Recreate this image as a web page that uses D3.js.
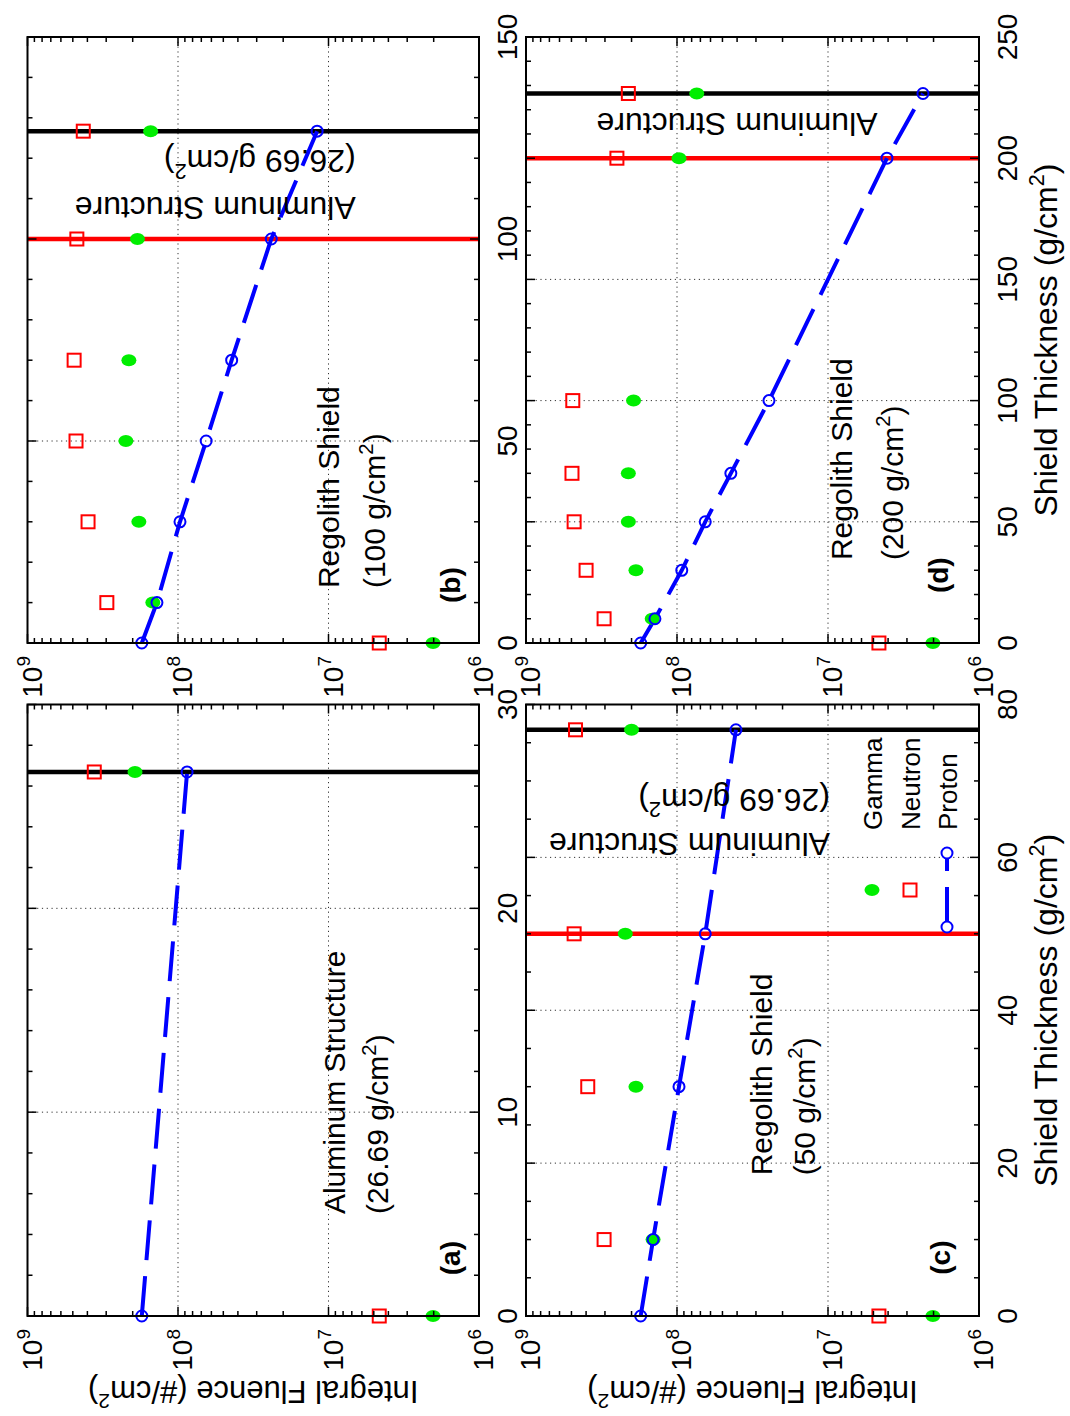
<!DOCTYPE html>
<html><head><meta charset="utf-8">
<script src="https://cdn.jsdelivr.net/npm/d3@7"></script>
<style>
html,body{margin:0;padding:0;background:#fff;}
svg{display:block;}
text{font-family:"Liberation Sans", Arial, Helvetica, sans-serif;fill:#000;}
</style></head><body>
<svg id="chart" width="1070" height="1416"></svg>
<script>
// ---------------- data ----------------
const seriesNames = ["Gamma", "Neutron", "Proton"];
const yTickValues = [1e6, 1e7, 1e8, 1e9];
const yTickExponents = ["6", "7", "8", "9"];

// (a) Aluminum structure only
const thicknessA = [0, 26.69];
const protonA  = [1.74e8, 8.7e7];
const neutronA = [4.6e6, 3.6e8];
const gammaA   = [2.02e6, 1.93e8];
const xTicksA  = [0, 10, 20, 30];

// (b) Regolith 100 g/cm2 + aluminum
const thicknessB = [0, 10, 30, 50, 70, 100, 126.69];
const protonB  = [1.74e8, 1.38e8, 9.7e7, 6.5e7, 4.4e7, 2.4e7, 1.19e7];
const neutronB = [4.6e6, 2.97e8, 3.96e8, 4.76e8, 4.9e8, 4.7e8, 4.26e8];
const gammaB   = [2.02e6, 1.47e8, 1.82e8, 2.22e8, 2.12e8, 1.86e8, 1.52e8];
const xTicksB  = [0, 50, 100, 150];

// (c) Regolith 50 g/cm2 + aluminum
const thicknessC = [0, 10, 30, 50, 76.69];
const protonC  = [1.74e8, 1.44e8, 9.7e7, 6.5e7, 4.07e7];
const neutronC = [4.6e6, 3.04e8, 3.9e8, 4.8e8, 4.7e8];
const gammaC   = [2.02e6, 1.44e8, 1.87e8, 2.2e8, 2.0e8];
const xTicksC  = [0, 20, 40, 60, 80];

// (d) Regolith 200 g/cm2 + aluminum
const thicknessD = [0, 10, 30, 50, 70, 100, 200, 226.69];
const protonD  = [1.74e8, 1.4e8, 9.3e7, 6.5e7, 4.4e7, 2.46e7, 4.07e6, 2.35e6];
const neutronD = [4.6e6, 3.04e8, 4.0e8, 4.8e8, 4.96e8, 4.9e8, 2.5e8, 2.1e8];
const gammaD   = [2.02e6, 1.46e8, 1.87e8, 2.1e8, 2.1e8, 1.94e8, 9.7e7, 7.4e7];
const xTicksD  = [0, 50, 100, 150, 200, 250];

// boundary lines: regolith thickness (red) and regolith + aluminum (black)
const regolithLines = {a: null, b: 100, c: 50, d: 200};
const aluminumLines = {a: 26.69, b: 126.69, c: 76.69, d: 226.69};

// ---------------- layout (original landscape frame, rotated onto page) ----------------
const svg = d3.select("#chart");
const root = svg.append("g").attr("transform", "translate(0,1416) rotate(-90)");

const panels = [
  {key: "a", xs: thicknessA, p: protonA, n: neutronA, g: gammaA, xt: xTicksA, minor: 2,
   L: 100, R: 711.5, T: 27.5, B: 479, ylab: true, xlab: false},
  {key: "b", xs: thicknessB, p: protonB, n: neutronB, g: gammaB, xt: xTicksB, minor: 10,
   L: 773, R: 1379, T: 27.5, B: 479, ylab: false, xlab: false},
  {key: "c", xs: thicknessC, p: protonC, n: neutronC, g: gammaC, xt: xTicksC, minor: 5,
   L: 100, R: 711.5, T: 526, B: 979, ylab: true, xlab: true},
  {key: "d", xs: thicknessD, p: protonD, n: neutronD, g: gammaD, xt: xTicksD, minor: 10,
   L: 773, R: 1379, T: 526, B: 979, ylab: false, xlab: true}
];

function rich(t, segs, size) {
  t.attr("font-size", size);
  let prevSup = false;
  for (const s of segs) {
    const isSup = s.startsWith("^");
    const ts = t.append("tspan").text(isSup ? s.slice(1) : s);
    if (isSup) ts.attr("font-size", size * 0.68).attr("dy", -size * 0.42);
    else if (prevSup) ts.attr("dy", size * 0.42);
    prevSup = isSup;
  }
  return t;
}

panels.forEach(P => {
  const g = root.append("g");
  const x = d3.scaleLinear().domain([P.xt[0], P.xt[P.xt.length - 1]]).range([P.L, P.R]);
  const y = d3.scaleLog().domain([1e6, 1e9]).range([P.B, P.T]);

  // grid
  const grid = g.append("g").attr("stroke", "#333").attr("stroke-width", 1).attr("stroke-dasharray", "1.2,3.6");
  P.xt.slice(1, -1).forEach(v => grid.append("line").attr("x1", x(v)).attr("x2", x(v)).attr("y1", P.T).attr("y2", P.B));
  yTickValues.slice(1, -1).forEach(v => grid.append("line").attr("y1", y(v)).attr("y2", y(v)).attr("x1", P.L).attr("x2", P.R));

  // boundary lines
  if (regolithLines[P.key] != null)
    g.append("line").attr("x1", x(regolithLines[P.key])).attr("x2", x(regolithLines[P.key]))
      .attr("y1", P.T).attr("y2", P.B).attr("stroke", "#ff0000").attr("stroke-width", 4.5);
  g.append("line").attr("x1", x(aluminumLines[P.key])).attr("x2", x(aluminumLines[P.key]))
    .attr("y1", P.T).attr("y2", P.B).attr("stroke", "#000").attr("stroke-width", 4.5);

  // proton dashed line
  const line = d3.line().x((d, i) => x(P.xs[i])).y(d => y(d));
  g.append("path").datum(P.p).attr("d", line).attr("fill", "none").attr("stroke", "#0000ff")
    .attr("stroke-width", 4).attr("stroke-dasharray", "40,16");

  // gamma markers
  g.selectAll(".gm").data(P.g).enter().append("ellipse")
    .attr("cx", (d, i) => x(P.xs[i])).attr("cy", d => y(d)).attr("rx", 6).attr("ry", 7.5)
    .attr("fill", "#00ee00");
  // neutron markers
  g.selectAll(".nm").data(P.n).enter().append("rect")
    .attr("x", (d, i) => x(P.xs[i]) - 6.5).attr("y", d => y(d) - 6.5).attr("width", 13).attr("height", 13)
    .attr("fill", "none").attr("stroke", "#ff0000").attr("stroke-width", 2);
  // proton markers
  g.selectAll(".pm").data(P.p).enter().append("circle")
    .attr("cx", (d, i) => x(P.xs[i])).attr("cy", d => y(d)).attr("r", 5.5)
    .attr("fill", "none").attr("stroke", "#0000ff").attr("stroke-width", 2);

  // box
  g.append("rect").attr("x", P.L).attr("y", P.T).attr("width", P.R - P.L).attr("height", P.B - P.T)
    .attr("fill", "none").attr("stroke", "#000").attr("stroke-width", 2);

  // ticks
  const tk = g.append("g").attr("stroke", "#000").attr("stroke-width", 1.5);
  const xmax = P.xt[P.xt.length - 1];
  for (let v = 0; v <= xmax + 1e-9; v += P.minor) {
    const major = P.xt.includes(v);
    const len = major ? 9 : 5;
    tk.append("line").attr("x1", x(v)).attr("x2", x(v)).attr("y1", P.B).attr("y2", P.B - len);
    tk.append("line").attr("x1", x(v)).attr("x2", x(v)).attr("y1", P.T).attr("y2", P.T + len);
  }
  for (let e = 6; e <= 9; e++) {
    for (let k = 1; k <= 9; k++) {
      const v = k * Math.pow(10, e);
      if (v > 1e9 * 1.0001) break;
      const len = k === 1 ? 9 : 5;
      tk.append("line").attr("y1", y(v)).attr("y2", y(v)).attr("x1", P.L).attr("x2", P.L + len);
      tk.append("line").attr("y1", y(v)).attr("y2", y(v)).attr("x1", P.R).attr("x2", P.R - len);
    }
  }

  // tick labels
  P.xt.forEach(v => g.append("text").attr("x", x(v)).attr("y", P.B + 38)
    .attr("text-anchor", "middle").attr("font-size", 28).text(v));
  yTickValues.forEach((v, i) => {
    const t = g.append("text").attr("x", P.L - 13).attr("y", y(v) + 14).attr("text-anchor", "end");
    rich(t, ["10", "^" + yTickExponents[i]], 28);
  });

  // axis labels
  if (P.ylab) {
    const t = g.append("text").attr("text-anchor", "middle")
      .attr("transform", `translate(${P.L - 65},${(P.T + P.B) / 2}) rotate(-90)`);
    rich(t, ["Integral Fluence (#/cm", "^2", ")"], 31);
  }
  if (P.xlab) {
    const t = g.append("text").attr("text-anchor", "middle")
      .attr("x", (P.L + P.R) / 2).attr("y", P.B + 78);
    rich(t, ["Shield Thickness (g/cm", "^2", ")"], 32);
  }
  P.x = x; P.y = y; P.g_ = g;
});

// ---------------- annotations ----------------
function hText(P, xv, yv, segs, size, bold) {
  const t = P.g_.append("text").attr("x", P.x(xv)).attr("y", P.y(yv));
  if (bold) t.attr("font-weight", "bold");
  return rich(t, segs, size);
}
function vText(P, xv, yv, segs, size) {
  const t = P.g_.append("text")
    .attr("transform", `translate(${P.x(xv)},${P.y(yv)}) rotate(-90)`);
  return rich(t, segs, size);
}
const [pa, pb, pc, pd] = panels;

hText(pa, 5, 7.76e6, ["Aluminum Structure"], 30);
hText(pa, 5, 4.0e6, ["(26.69 g/cm", "^2", ")"], 30);
hText(pa, 2, 1.34e6, ["(a)"], 28, true);

hText(pb, 13.6, 8.5e6, ["Regolith Shield"], 30);
hText(pb, 13.6, 4.2e6, ["(100 g/cm", "^2", ")"], 30);
hText(pb, 9.9, 1.34e6, ["(b)"], 28, true);
vText(pb, 110.4, 6.6e6, ["Aluminum Structure"], 32);
vText(pb, 122, 6.6e6, ["(26.69 g/cm", "^2", ")"], 32);

hText(pc, 18.4, 2.35e7, ["Regolith Shield"], 30);
hText(pc, 18.4, 1.22e7, ["(50 g/cm", "^2", ")"], 30);
hText(pc, 5.4, 1.55e6, ["(c)"], 28, true);
vText(pc, 63.2, 9.7e6, ["Aluminum Structure"], 32);
vText(pc, 69, 9.7e6, ["(26.69 g/cm", "^2", ")"], 32);

hText(pd, 34.2, 6.9e6, ["Regolith Shield"], 30);
hText(pd, 34.2, 3.2e6, ["(200 g/cm", "^2", ")"], 30);
hText(pd, 20.6, 1.6e6, ["(d)"], 28, true);
vText(pd, 218.6, 4.7e6, ["Aluminum Structure"], 32);

// ---------------- legend (inside panel c) ----------------
const lg = pc.g_.append("g");
const lx0 = 489, lx1 = 563, lxm = (lx0 + lx1) / 2, ltx = 586;
const rows = [872, 910, 947];
lg.append("ellipse").attr("cx", lxm).attr("cy", rows[0]).attr("rx", 6).attr("ry", 7.5).attr("fill", "#00ee00");
lg.append("rect").attr("x", lxm - 6.5).attr("y", rows[1] - 6.5).attr("width", 13).attr("height", 13)
  .attr("fill", "none").attr("stroke", "#ff0000").attr("stroke-width", 2);
lg.append("line").attr("x1", lx0).attr("x2", lx1).attr("y1", rows[2]).attr("y2", rows[2])
  .attr("stroke", "#0000ff").attr("stroke-width", 4).attr("stroke-dasharray", "40,16");
[lx0, lx1].forEach(cx => lg.append("circle").attr("cx", cx).attr("cy", rows[2]).attr("r", 5.5)
  .attr("fill", "#fff").attr("stroke", "#0000ff").attr("stroke-width", 2));
seriesNames.forEach((s, i) => lg.append("text").attr("x", ltx).attr("y", rows[i] + 10)
  .attr("font-size", 26).text(s));
</script></body></html>
